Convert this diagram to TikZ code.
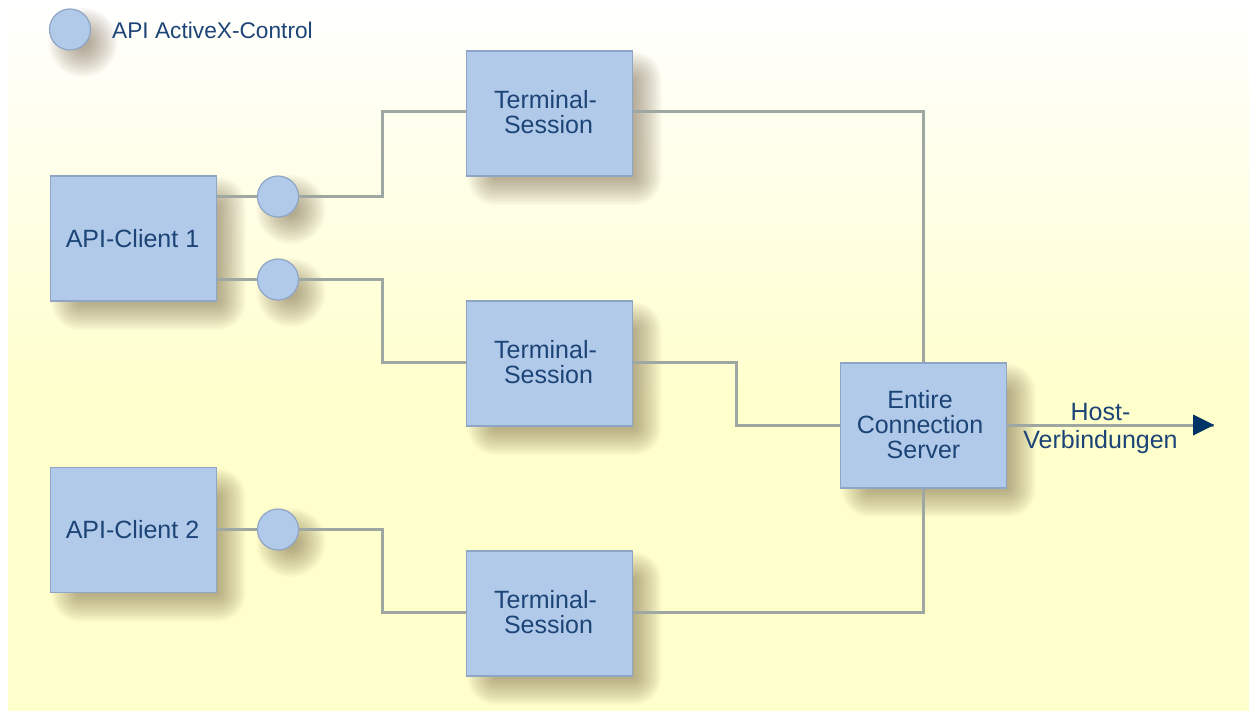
\documentclass[tikz,border=0pt]{standalone}
\usepackage{fontspec}
\setmainfont{Liberation Sans}
\usetikzlibrary{calc}
\definecolor{boxfill}{HTML}{B1CAE9}
\definecolor{boxline}{HTML}{8FA5C6}
\definecolor{conn}{HTML}{9FA7A3}
\definecolor{ink}{HTML}{1C4476}
\definecolor{navy}{HTML}{003366}
\definecolor{pale}{HTML}{FFFFCC}
\definecolor{shade}{HTML}{5A4528}
\pgfdeclarelayer{back}
\pgfdeclarelayer{under}
\pgfsetlayers{back,under,main}
\newcommand{\liftup}[1]{\rule[-#1]{0pt}{#1}}
\newcommand{\nudge}[1]{\rule{#1}{0pt}}
\tikzset{
  boxnode/.style={draw=boxline,line width=1.2pt,fill=boxfill,minimum width=166pt,minimum height=125pt,
    inner sep=0pt,outer sep=0pt,text=ink,align=center,font=\fontsize{25}{25}\selectfont},
  dot/.style={circle,draw=boxline,line width=1.2pt,fill=boxfill,minimum size=41pt,inner sep=0pt,outer sep=0pt},
  link/.style={draw=conn,line width=3pt,line join=miter},
  labeltext/.style={text=ink,align=center,inner sep=0pt,font=\fontsize{25}{25}\selectfont},
  softlayer/.style={fill=shade,opacity=0.034,draw=none}
}
% soft shadow of a box, from its node name
\newcommand{\boxshadow}[1]{%
  \foreach \g in {-14,-12,...,14}{%
    \fill[softlayer,rounded corners={max(1,14+\g)*1pt}]
      ($(#1.south west)+({15-\g},{15+\g})$) rectangle ($(#1.north east)+({15+\g},{15-\g})$);
  }}
% soft shadow of a circle
\newcommand{\dotshadow}[1]{%
  \foreach \g in {-14,-12,...,14}{%
    \fill[softlayer] ($(#1)+(13,13)$) circle ({20.5+\g});
  }}
\begin{document}
\begin{tikzpicture}[x=1pt,y=-1pt]
\useasboundingbox (0,0) rectangle (1249,711);
\begin{pgfonlayer}{back}
\fill[white] (0,0) rectangle (1249,711);
\shade[top color=white,bottom color=pale,draw=none] (8,0) rectangle (1249,400);
\fill[pale] (8,399.5) rectangle (1249,711);
\end{pgfonlayer}

\node[boxnode] (client1) at (133.5,238.5) {API-Client 1\nudge{2pt}\liftup{1pt}};
\node[boxnode] (client2) at (133.5,530) {API-Client 2\nudge{2pt}\liftup{1pt}};
\node[boxnode] (term1) at (549.5,113.5) {Terminal-\nudge{8pt}\\Session\nudge{2pt}\liftup{3pt}};
\node[boxnode] (term2) at (549.5,363.5) {Terminal-\nudge{8pt}\\Session\nudge{2pt}\liftup{3pt}};
\node[boxnode] (term3) at (549.5,613.5) {Terminal-\nudge{8pt}\\Session\nudge{2pt}\liftup{3pt}};
\node[boxnode] (server) at (923.5,425.5) {Entire\nudge{7pt}\\Connection\nudge{7pt}\\Server\liftup{2pt}};
\node[dot] (legend) at (70,29.5) {};
\node[dot] (c1) at (278,196.5) {};
\node[dot] (c2) at (278,279.5) {};
\node[dot] (c3) at (278,529.5) {};
\node[labeltext,anchor=west,font=\fontsize{22.7}{25}\selectfont] (legendtext) at (112,30) {API ActiveX-Control};
\node[labeltext] (hostlabel) at (1100.5,428) {Host-\\[3pt]Verbindungen};
\coordinate (j1) at (382,112);
\coordinate (j2) at (382,362);
\coordinate (j3) at (382,612);
\coordinate (bend) at (736,425);
\coordinate (hostend) at (1214,425);

\begin{pgfonlayer}{under}
  \foreach \n in {client1,client2,term1,term2,term3,server}{\boxshadow{\n}}
  \foreach \n in {legend,c1,c2,c3}{\dotshadow{\n}}
  \draw[link] (client1.east |- c1) -- (c1);
  \draw[link] (client1.east |- c2) -- (c2);
  \draw[link] (client2.east |- c3) -- (c3);
  \draw[link] (c1) -| (j1) -- (term1.west |- j1);
  \draw[link] (c2) -| (j2) -- (term2.west |- j2);
  \draw[link] (c3) -| (j3) -- (term3.west |- j3);
  \draw[link] (term1.east |- j1) -| (server.north);
  \draw[link] (term3.east |- j3) -| (server.south);
  \draw[link] (term2.east |- j2) -| (bend) -- (server.west |- hostend);
  \draw[link] (server.east |- hostend) -- (hostend);
\end{pgfonlayer}
\fill[navy] (hostend) -- ++(-21,-10.5) -- ++(0,21) -- cycle;
\end{tikzpicture}
\end{document}
